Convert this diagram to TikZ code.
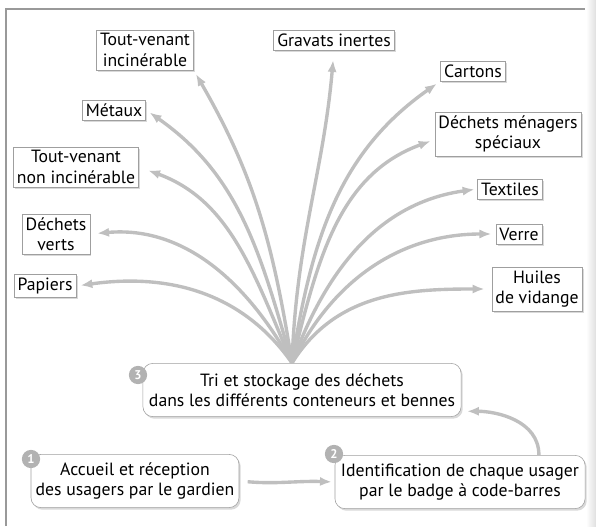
\documentclass[tikz,border=0pt]{standalone}
\usepackage{fontspec}
\setmainfont{PT Sans}
\usetikzlibrary{arrows.meta,shadows}
\colorlet{arrow gray}{gray!50}
\colorlet{box edge}{gray!75}
\def\boxfont{\fontsize{12.6}{14.5}\selectfont}
\tikzset{label/.style={draw=box edge, fill=white, thin, inner sep=2.5pt, align=center, font=\boxfont,
		drop shadow={shadow xshift=1.2pt, shadow yshift=-1.2pt, opacity=.3}},
	stage/.style={draw=box edge, fill=white, thin, rounded corners=7pt, align=center, font=\boxfont,
		minimum height=1.33cm, drop shadow={shadow xshift=1.2pt, shadow yshift=-1.5pt, opacity=.3}},
	badge/.style={circle, fill=gray!60, text=white, font=\bfseries\small, inner sep=0pt, minimum size=13pt},
	fan/.style={draw=arrow gray, line width=2.4pt, -{Latex[length=8.5pt,width=6.5pt]}}}

\begin{document}
\begin{tikzpicture}[x=0.025cm,y=0.025cm]
		\useasboundingbox (0,0) rectangle (596,526);
		\shade[left color=white, right color=gray!25] (586,0) rectangle (596,526);
		\draw[gray!80, line width=0.8pt] (6,0) -- (6,517) -- (585,517);
		
		% the three stages
		\node[stage, minimum width=7.95cm] (tri) at (302,136) {Tri et stockage des déchets\\dans les différents conteneurs et bennes};
		\node[stage, minimum width=5.15cm] (accueil) at (135,45) {Accueil et réception\\des usagers par le gardien};
		\node[stage, minimum width=6.25cm] (ident) at (460,44) {Identification de chaque usager\\par le badge à code-barres};
		\node[badge] (b3) at (138,151) {3};
		\node[badge] (b1) at (31,67) {1};
		\node[badge] (b2) at (334,72) {2};
		
		% the containers
		\node[label] (tvi) at (145,476) {Tout-venant\\incinérable};
		\node[label] (gravats) at (334,486) {Gravats inertes};
		\node[label] (cartons) at (473,455) {Cartons};
		\node[label] (dms) at (508,392) {Déchets ménagers\\spéciaux};
		\node[label] (textiles) at (510,337) {Textiles};
		\node[label] (verre) at (519,292) {Verre};
		\node[label] (huiles) at (537,237) {Huiles\\de vidange};
		\node[label] (metaux) at (114,416) {Métaux};
		\node[label] (tvni) at (76,359) {Tout-venant\\non incinérable};
		\node[label] (verts) at (56,292) {Déchets\\verts};
		\node[label] (papiers) at (45,240) {Papiers};
		
		\coordinate (o) at (292,163);
		\draw[fan, shorten >=3pt] (o) to[out=125, in=8] (papiers.east);
		\draw[fan, shorten >=5pt] (o) to[out=119, in=5] (verts.east);
		\draw[fan, shorten >=7pt] (o) to[out=113, in=-20] (tvni.east);
		\draw[fan, shorten >=3pt] (o) to[out=106, in=-35] (metaux.east);
		\draw[fan, shorten >=3pt] (o) to[out=99, in=-60] (tvi.south east);
		\draw[fan, shorten >=7pt] (o) to[out=88, in=-95] (gravats.south);
		\draw[fan, shorten >=3pt] (o) to[out=81, in=-145] (cartons.south west);
		\draw[fan, shorten >=3pt] (o) to[out=76, in=-160] ([yshift=-4pt]dms.west);
		\draw[fan, shorten >=2pt] (o) to[out=70, in=-172] (textiles.west);
		\draw[fan, shorten >=3pt] (o) to[out=64, in=180] (verre.west);
		\draw[fan, shorten >=5pt] (o) to[out=58, in=180] (huiles.west);
		
		\draw[fan, shorten <=6pt, shorten >=2pt] (accueil.east) to[out=-5, in=178] (ident.west);
		\draw[fan, shorten >=4pt] ([xshift=-33pt]ident.north east) to[out=90, in=0] ([yshift=4pt]tri.south east);
		
\end{tikzpicture}
\end{document}
